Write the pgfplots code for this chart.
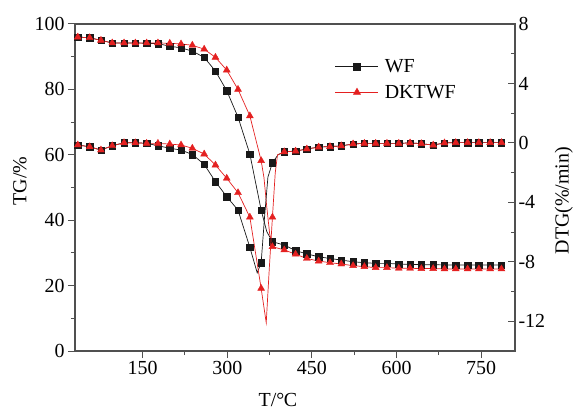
\documentclass[border=0pt]{standalone}
\usepackage{fontspec}
\setmainfont{Liberation Serif}
\usepackage{pgfplots}
\pgfplotsset{compat=1.18}
\definecolor{wfblack}{RGB}{25,25,25}
\definecolor{dkred}{RGB}{228,32,32}
\definecolor{axgray}{RGB}{80,80,80}

% marker positions (every ~20 degC)
\pgfplotstableread{
T     tg
35    96.0
56    95.8
76    95.0
96    94.2
117   94.2
137   94.2
157   94.1
177   94.0
198   93.2
218   92.7
238   91.7
259   89.8
279   85.6
299   79.6
319   71.5
340   60.2
360   43.1
380   33.4
401   32.4
421   30.7
441   29.7
462   28.8
482   28.3
502   27.8
523   27.3
543   27.0
563   26.8
583   26.8
604   26.6
624   26.5
644   26.4
665   26.4
685   26.3
705   26.3
726   26.3
746   26.3
766   26.3
786   26.3
}\tgwf
\pgfplotstableread{
T     tg
35    96.0
56    95.8
76    95.0
96    94.2
117   94.2
137   94.2
157   94.2
177   94.2
198   94.1
218   93.9
238   93.5
259   92.3
279   89.8
299   85.9
319   80.0
340   71.9
360   58.2
380   31.9
401   30.9
421   29.6
441   28.3
462   27.5
482   27.0
502   26.6
523   26.1
543   25.8
563   25.5
583   25.5
604   25.3
624   25.3
644   25.2
665   25.2
685   25.1
705   25.1
726   25.1
746   25.1
766   25.1
786   25.1
}\tgdk
\pgfplotstableread{
T     dtg
35    -0.14
56    -0.26
76    -0.48
96    -0.19
117    0.01
137    0.01
157   -0.03
177   -0.19
198   -0.36
218   -0.48
238   -0.78
259   -1.44
279   -2.61
299   -3.62
319   -4.52
340   -7.03
360   -8.06
380   -1.33
401   -0.60
421   -0.55
441   -0.41
462   -0.28
482   -0.25
502   -0.20
523   -0.07
543   -0.03
563   -0.03
583   -0.03
604   -0.03
624    0.00
644   -0.05
665   -0.15
685    0.00
705    0.02
726    0.02
746    0.02
766    0.02
786    0.02
}\dtgwf
\pgfplotstableread{
T     dtg
35    -0.14
56    -0.26
76    -0.48
96    -0.19
117    0.01
137    0.01
157   -0.03
177   -0.03
198   -0.08
218   -0.14
238   -0.36
259   -0.75
279   -1.49
299   -2.38
319   -3.35
340   -5.00
360   -9.79
380   -5.00
401   -0.60
421   -0.55
441   -0.41
462   -0.28
482   -0.25
502   -0.20
523   -0.07
543   -0.03
563   -0.03
583   -0.03
604   -0.03
624    0.00
644   -0.05
665   -0.15
685    0.00
705    0.02
726    0.02
746    0.02
766    0.02
786    0.02
}\dtgdk

\pgfplotsset{
  tgdtg/.style={
    width=440bp, height=327bp, scale only axis,
    xmin=30, xmax=810,
    xtick={150,300,450,600,750},
    minor x tick num=1,
    axis line style={axgray, line width=1.1bp},
    every tick/.style={axgray, line width=1bp},
    major tick length=7bp, minor tick length=4bp,
    /pgf/number format/assume math mode=true,
    tick label style={font=\fontsize{20}{23}\selectfont},
    label style={font=\fontsize{20}{23}\selectfont},
  },
  wf/.style={wfblack, line width=0.7bp},
  dk/.style={dkred, line width=0.7bp},
  wfm/.style={wfblack, only marks, mark=square*, mark size=3.2bp, mark options={fill=wfblack, draw=wfblack}},
  dkm/.style={dkred, only marks, mark=triangle*, mark size=4bp, mark options={fill=dkred, draw=dkred}},
}

\begin{document}
\begin{tikzpicture}
\useasboundingbox (-75bp,-61bp) rectangle (499bp,351bp);

\begin{axis}[tgdtg,
  ymin=0, ymax=100, ytick={0,20,...,100}, minor y tick num=1,
  tick align=outside, xtick pos=left, ytick pos=left,
  xlabel={T/°\kern-0.5pt C}, ylabel={TG/\%},
  xlabel style={at={(axis description cs:0.461,-0.15)}, anchor=center},
  ylabel style={at={(axis description cs:-0.125,0.52)}, anchor=center},
  legend style={at={(axis description cs:0.584,0.904)}, anchor=north west,
    draw=none, fill=none, font=\fontsize{20}{23}\selectfont, row sep=7bp, column sep=4bp},
  legend cell align=left,
  legend image code/.code={\draw[mark repeat=2,mark phase=2,#1] plot coordinates {(0bp,0bp) (21.5bp,0bp) (43bp,0bp)};},
]
% TG lines
\addplot[wf, forget plot] coordinates {
(35,96.0)(56,95.8)(76,95.0)(96,94.2)(117,94.2)(137,94.2)(157,94.1)(177,94.0)(198,93.2)(218,92.7)
(238,91.7)(259,89.8)(279,85.6)(299,79.6)(319,71.5)(340,60.2)(360,43.1)(370,36.5)(380,33.4)(401,32.4)
(421,30.7)(441,29.7)(462,28.8)(482,28.3)(502,27.8)(523,27.3)(543,27.0)(563,26.8)(583,26.8)(604,26.6)
(624,26.5)(644,26.4)(665,26.4)(685,26.3)(705,26.3)(726,26.3)(746,26.3)(766,26.3)(786,26.3)};
\addplot[dk, forget plot] coordinates {
(35,96.0)(56,95.8)(76,95.0)(96,94.2)(117,94.2)(137,94.2)(157,94.2)(177,94.2)(198,94.1)(218,93.9)
(238,93.5)(259,92.3)(279,89.8)(299,85.9)(319,80.0)(340,71.9)(360,58.2)(365,53.0)(370,44.0)(375,36.0)(380,31.9)
(401,30.9)(421,29.6)(441,28.3)(462,27.5)(482,27.0)(502,26.6)(523,26.1)(543,25.8)(563,25.5)(583,25.5)
(604,25.3)(624,25.3)(644,25.2)(665,25.2)(685,25.1)(705,25.1)(726,25.1)(746,25.1)(766,25.1)(786,25.1)};
\addplot[wfm, forget plot] table[x=T, y=tg] {\tgwf};
\addplot[dkm, forget plot] table[x=T, y=tg] {\tgdk};
\addlegendimage{wfblack, line width=0.7bp, mark=square*, mark size=3.2bp, mark options={fill=wfblack}}
\addlegendentry{WF}
\addlegendimage{dkred, line width=0.7bp, mark=triangle*, mark size=4bp, mark options={fill=dkred}}
\addlegendentry{DKTWF}
\end{axis}

\begin{axis}[tgdtg,
  ymin=-14, ymax=8, ytick={-12,-8,...,8}, minor y tick num=1,
  axis y line*=right, axis x line=none, tick align=inside,
  ylabel={DTG(\%/min)},
  ylabel style={at={(axis description cs:1.111,0.46)}, anchor=center},
]
% DTG lines
\addplot[wf] coordinates {
(35,-0.14)(56,-0.26)(76,-0.48)(96,-0.19)(117,0.01)(137,0.01)(157,-0.03)(177,-0.19)(198,-0.36)(218,-0.48)
(238,-0.78)(259,-1.44)(279,-2.61)(299,-3.62)(319,-4.52)(340,-7.03)(353,-8.74)(360,-8.06)(366,-5.0)(372,-2.3)
(380,-1.33)(390,-0.8)(401,-0.60)(421,-0.55)(441,-0.41)(462,-0.28)(482,-0.25)(502,-0.20)(523,-0.07)(543,-0.03)
(563,-0.03)(583,-0.03)(604,-0.03)(624,0.00)(644,-0.05)(665,-0.15)(685,0.00)(705,0.02)(726,0.02)(746,0.02)
(766,0.02)(786,0.02)};
\addplot[dk] coordinates {
(35,-0.14)(56,-0.26)(76,-0.48)(96,-0.19)(117,0.01)(137,0.01)(157,-0.03)(177,-0.03)(198,-0.08)(218,-0.14)
(238,-0.36)(259,-0.75)(279,-1.49)(299,-2.38)(319,-3.35)(340,-5.00)(360,-9.79)(369,-12.1)(374.5,-8.4)(380,-5.0)
(385,-2.0)(389,-0.8)(401,-0.60)(421,-0.55)(441,-0.41)(462,-0.28)(482,-0.25)(502,-0.20)(523,-0.07)(543,-0.03)
(563,-0.03)(583,-0.03)(604,-0.03)(624,0.00)(644,-0.05)(665,-0.15)(685,0.00)(705,0.02)(726,0.02)(746,0.02)
(766,0.02)(786,0.02)};
\addplot[wfm] table[x=T, y=dtg] {\dtgwf};
\addplot[dkm] table[x=T, y=dtg] {\dtgdk};
\end{axis}
\end{tikzpicture}
\end{document}
